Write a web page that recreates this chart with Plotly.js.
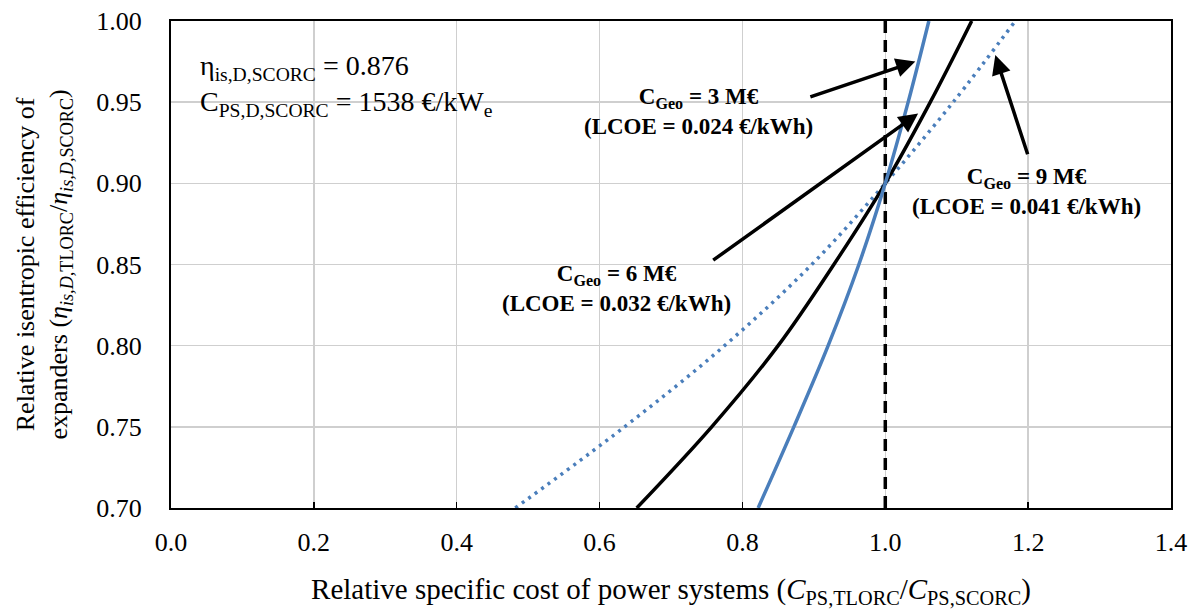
<!DOCTYPE html>
<html><head><meta charset="utf-8">
<script src="https://cdn.plot.ly/plotly-3.0.1.min.js"></script>
<style>body{margin:0;background:#fff}#chart{width:1196px;height:612px}</style>
</head><body><div id="chart"></div>
<script>
// Relative efficiency levels (y) shared by all curves
const effLevels = [0.70, 0.75, 0.80, 0.85, 0.90, 0.95, 1.00];
// Relative specific cost (x) for each geothermal cost case
const costGeo3 = [0.822, 0.872, 0.920, 0.963, 1.000, 1.032, 1.061];
const costGeo6 = [0.652, 0.757, 0.850, 0.928, 1.000, 1.063, 1.121];
const costGeo9 = [0.482, 0.635, 0.775, 0.897, 1.000, 1.095, 1.182];
// Reference line at relative cost = 1
const refX = [1.0, 1.0];
const refY = [0.70, 1.00];
const xTicks = [0.0, 0.2, 0.4, 0.6, 0.8, 1.0, 1.2, 1.4];
const xTickText = ['0.0','0.2','0.4','0.6','0.8','1.0','1.2','1.4'];
const yTicks = [0.70, 0.75, 0.80, 0.85, 0.90, 0.95, 1.00];
const yTickText = ['0.70','0.75','0.80','0.85','0.90','0.95','1.00'];

const FONT = "'Liberation Serif', 'Times New Roman', serif";
const blue = '#4A7EBB';

const traces = [
  {x: refX, y: refY, mode: 'lines', line: {color: '#000', width: 3.5, dash: '12px,7px'}, hoverinfo: 'skip'},
  {x: costGeo9, y: effLevels, mode: 'lines', line: {color: blue, width: 3.5, dash: '3px,5px', shape: 'spline', smoothing: 1.0}},
  {x: costGeo6, y: effLevels, mode: 'lines', line: {color: '#000', width: 3.5, shape: 'spline', smoothing: 1.0}},
  {x: costGeo3, y: effLevels, mode: 'lines', line: {color: blue, width: 3.5, shape: 'spline', smoothing: 1.0}}
];

const bold = {family: FONT, size: 23, color: '#000'};
function arrow(tx, ty, hx, hy) {
  return {x: hx, y: hy, ax: tx, ay: ty, xref: 'x', yref: 'y', axref: 'x', ayref: 'y',
    text: '', showarrow: true, arrowhead: 2, arrowsize: 1.1, arrowwidth: 3.5, arrowcolor: '#000', standoff: 0, startstandoff: 0};
}

const layout = {
  width: 1196, height: 612,
  margin: {l: 171, r: 25, t: 21, b: 104},
  paper_bgcolor: '#fff', plot_bgcolor: '#fff',
  showlegend: false,
  font: {family: FONT, size: 26, color: '#000'},
  xaxis: {
    range: [0, 1.4], tickvals: xTicks, ticktext: xTickText,
    showgrid: true, gridcolor: '#cfcfcf', gridwidth: 1.5,
    showline: true, linecolor: '#000', linewidth: 2, mirror: true,
    ticks: 'inside', ticklen: 6, tickwidth: 1.5, tickcolor: '#000',
    zeroline: false, ticklabelstandoff: 10,
    tickfont: {family: FONT, size: 26, color: '#000'},
    title: {text: 'Relative specific cost of power systems (<i>C</i><sub>PS,TLORC</sub>/<i>C</i><sub>PS,SCORC</sub>)',
      font: {family: FONT, size: 29, color: '#000'}, standoff: 22}
  },
  yaxis: {
    range: [0.70, 1.00], tickvals: yTicks, ticktext: yTickText,
    showgrid: true, gridcolor: '#cfcfcf', gridwidth: 1.5,
    showline: true, linecolor: '#000', linewidth: 2, mirror: true,
    ticks: '', zeroline: false, ticklabelstandoff: 22,
    tickfont: {family: FONT, size: 26, color: '#000'}
  },
  annotations: [
    {xref: 'paper', yref: 'paper', x: -0.128, y: 0.5, xanchor: 'center', yanchor: 'middle', textangle: -90, showarrow: false,
     text: 'Relative isentropic efficiency of<br>expanders (<i>η</i><sub><i>is,D,</i>TLORC</sub>/<i>η</i><sub><i>is,D,</i>SCORC</sub>)',
     font: {family: FONT, size: 26, color: '#000'}},
    {xref: 'paper', yref: 'paper', x: 0.027, y: 0.945, xanchor: 'left', yanchor: 'top', align: 'left', showarrow: false,
     text: 'η<sub>is,D,SCORC</sub> = 0.876<br>C<sub>PS,D,SCORC</sub> = 1538 €/kW<sub>e</sub>',
     font: {family: FONT, size: 28, color: '#000'}},
    {x: 0.738, y: 0.9445, xref: 'x', yref: 'y', showarrow: false, align: 'center',
     text: '<b>C<sub>Geo</sub> = 3 M€</b><br><b>(LCOE = 0.024 €/kWh)</b>', font: bold},
    {x: 0.624, y: 0.8355, xref: 'x', yref: 'y', showarrow: false, align: 'center',
     text: '<b>C<sub>Geo</sub> = 6 M€</b><br><b>(LCOE = 0.032 €/kWh)</b>', font: bold},
    {x: 1.197, y: 0.8947, xref: 'x', yref: 'y', showarrow: false, align: 'center',
     text: '<b>C<sub>Geo</sub> = 9 M€</b><br><b>(LCOE = 0.041 €/kWh)</b>', font: bold},
    arrow(0.893, 0.953, 1.042, 0.975),
    arrow(0.757, 0.852, 1.046, 0.943),
    arrow(1.200, 0.917, 1.154, 0.979)
  ]
};

Plotly.newPlot('chart', traces, layout, {displayModeBar: false, staticPlot: true});
</script>
</body></html>
